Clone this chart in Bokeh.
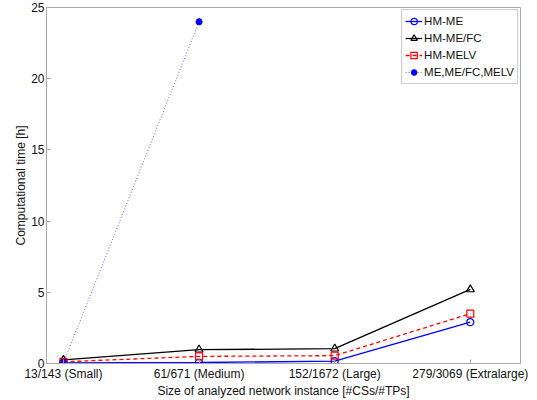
from bokeh.plotting import figure
from bokeh.models import FixedTicker, Legend, LegendItem, Range1d
from bokeh.embed import file_html
from bokeh.resources import INLINE

# ---- data ----
categories = ["13/143 (Small)", "61/671 (Medium)", "152/1672 (Large)", "279/3069 (Extralarge)"]
x_pos = [1, 2, 3, 4]
hm_me = [0.05, 0.07, 0.16, 2.9]
hm_me_fc = [0.25, 0.97, 1.04, 5.2]
hm_melv = [0.12, 0.5, 0.55, 3.5]
me_all_x = [1, 2]
me_all = [0.05, 24.0]
y_ticks = [0, 5, 10, 15, 20, 25]

FONT = "Liberation Sans"
AX = "#a8a8a8"

p = figure(width=537, height=400, output_backend="svg", toolbar_location=None,
           x_range=Range1d(0.875, 4.37), y_range=Range1d(0, 25),
           min_border_left=46, min_border_right=17, min_border_top=7, min_border_bottom=33)
p.xgrid.visible = False
p.ygrid.visible = False
p.outline_line_color = AX
p.background_fill_color = "white"
p.border_fill_color = "white"

# bottom axis
xa = p.xaxis[0]
xa.ticker = FixedTicker(ticks=x_pos)
xa.major_label_overrides = {x: c for x, c in zip(x_pos, categories)}
xa.axis_label = "Size of analyzed network instance [#CSs/#TPs]"
# left axis
ya = p.yaxis[0]
ya.ticker = FixedTicker(ticks=y_ticks)
ya.axis_label = "Computational time [h]"

for ax in (xa, ya):
    ax.axis_line_color = AX
    ax.major_tick_line_color = AX
    ax.major_tick_in = 4
    ax.major_tick_out = 0
    ax.minor_tick_in = 0
    ax.minor_tick_out = 0
    ax.major_label_text_font = FONT
    ax.major_label_text_font_size = "12px"
    ax.major_label_text_color = "#111111"
    ax.axis_label_text_font = FONT
    ax.axis_label_text_font_size = "12px"
    ax.axis_label_text_font_style = "normal"
    ax.axis_label_text_color = "#111111"
xa.major_label_standoff = 3
xa.axis_label_standoff = 0
ya.major_label_standoff = 2
ya.axis_label_standoff = 0

# series
l1 = p.line(x_pos, hm_me, line_color="#0000ff", line_width=1.3)
m1 = p.scatter(x_pos, hm_me, marker="circle", size=7, fill_color=None,
               line_color="#0000ff", line_width=1.2)
l2 = p.line(x_pos, hm_me_fc, line_color="#000000", line_width=1.3)
m2 = p.scatter(x_pos, hm_me_fc, marker="triangle", size=8, fill_color=None,
               line_color="#000000", line_width=1.2)
l3 = p.line(x_pos, hm_melv, line_color="#ff0000", line_width=1.3, line_dash="4 3")
m3 = p.scatter(x_pos, hm_melv, marker="square", size=7, fill_color=None,
               line_color="#ff0000", line_width=1.2)
l4 = p.line(me_all_x, me_all, line_color="#3a3aff", line_width=1, line_dash="1 2",
            line_alpha=0.8)
m4 = p.scatter(me_all_x, me_all, marker="asterisk", size=7, line_color="#0000ff",
               line_width=2.2)

legend = Legend(items=[
    LegendItem(label="HM-ME", renderers=[l1, m1]),
    LegendItem(label="HM-ME/FC", renderers=[l2, m2]),
    LegendItem(label="HM-MELV", renderers=[l3, m3]),
    LegendItem(label="ME,ME/FC,MELV", renderers=[l4, m4]),
], location="top_right")
legend.margin = 2
legend.padding = 3
legend.spacing = 1
legend.glyph_width = 17
legend.glyph_height = 16
legend.label_height = 16
legend.label_standoff = 2
legend.label_text_font = FONT
legend.label_text_font_size = "11.5px"
legend.label_text_color = "#111111"
legend.border_line_color = "#9a9a9a"
legend.background_fill_color = "white"
legend.background_fill_alpha = 1.0
p.add_layout(legend, "center")

open("out.html", "w").write(file_html(p, INLINE))
